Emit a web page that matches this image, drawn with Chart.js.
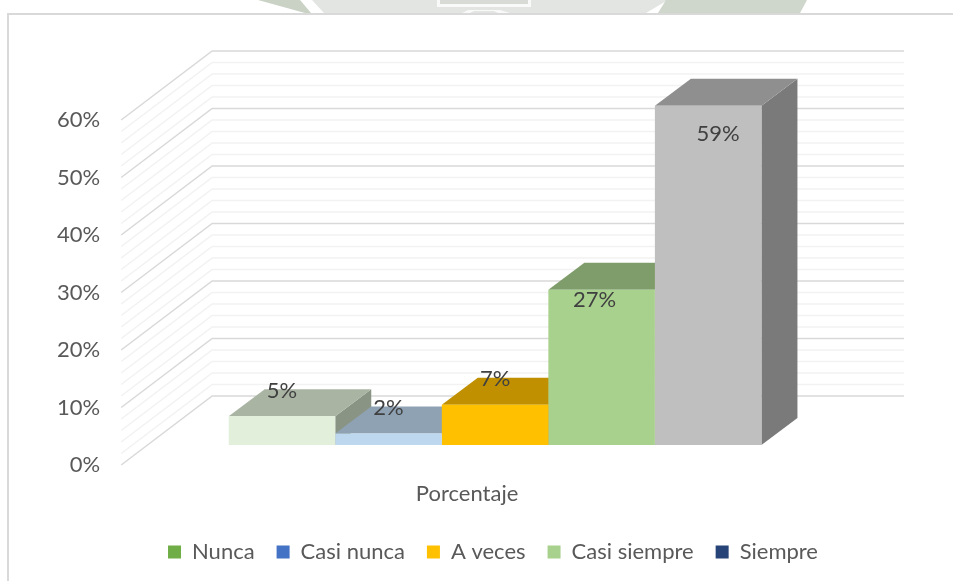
<!DOCTYPE html>
<html><head><meta charset="utf-8">
<style>html,body{margin:0;padding:0;background:#fff}canvas{display:block}</style>
<script src="https://cdn.jsdelivr.net/npm/chart.js@4"></script>
</head><body><div style="width:953px;height:581px"><canvas id="c"></canvas></div>
<script>
const categories = ['Porcentaje'];
const seriesNames = ['Nunca','Casi nunca','A veces','Casi siempre','Siempre'];
const seriesValues = [5,2,7,27,59];
const faceColors = ['#E2EFDA','#BDD7EE','#FFC000','#A9D18E','#BFBFBF'];
const topColors = ['#A9B4A3','#8EA2B4','#C09000','#7F9D6B','#8F8F8F'];
const sideColors = ['#8A9484','#7A8A99','#A37B00','#6C8559','#7A7A7A'];
const legendColors = ['#70AD47','#4472C4','#FFC000','#A9D18E','#264478'];
const labelShift = [[0,-25],[0,-26],[0,-26],[-7,10],[10,28]];
const WALL = {dx:91, dy:-69};
const BAR = {dx:28, dy:-20};
const DEPTH = {dx:36, dy:-27};
const FONT = 'Lato';

function poly(ctx,color,pts){
  ctx.fillStyle=color;ctx.beginPath();
  pts.forEach((p,i)=>i?ctx.lineTo(p[0],p[1]):ctx.moveTo(p[0],p[1]));
  ctx.closePath();ctx.fill();
}
const scene = {
  id:'scene',
  afterLayout(chart){
    const l=chart.legend;
    const dx=493-(l.left+l.right)/2;
    l.left+=dx;l.right+=dx;
    const h=l.bottom-l.top;
    l.top=519;l.bottom=519+h;
  },
  beforeDraw(chart){
    const {ctx,scales:{y},chartArea:a} = chart;
    ctx.save();
    ctx.fillStyle='#fff';ctx.fillRect(0,0,953,581);
    // faint backdrop strip above the frame
    poly(ctx,'#C9D2C5',[[258,0],[300,0],[311,13],[305,13]]);
    poly(ctx,'#E2E5E1',[[312,0],[668,0],[646,13],[324,13]]);
    poly(ctx,'#F8F9F8',[[437,0],[531,0],[531,7],[437,7]]);
    poly(ctx,'#D7DAD5',[[440,0],[528,0],[528,4],[440,4]]);
    poly(ctx,'#F8F9F8',[[462,13],[468,10],[500,10],[510,13]]);
    poly(ctx,'#E2E5E1',[[470,13],[474,11],[494,11],[498,13]]);
    poly(ctx,'#CFD6CB',[[666,0],[807,0],[800,13],[658,13]]);
    ctx.fillStyle='#D9D9D9';
    ctx.fillRect(7,13,946,2);
    ctx.fillRect(7,13,2,568);
    y.ticks.forEach(t=>{
      const py=y.getPixelForValue(t.value);
      const major=t.value%10===0;
      ctx.strokeStyle=major?'#D9D9D9':'#F2F2F2';ctx.lineWidth=1.5;
      ctx.beginPath();ctx.moveTo(a.left,py);
      ctx.lineTo(a.left+WALL.dx,py+WALL.dy);
      ctx.lineTo(a.right+WALL.dx,py+WALL.dy);ctx.stroke();
    });
    ctx.restore();
  },
  beforeDatasetsDraw(chart){
    const {ctx}=chart;
    ctx.save();
    chart.data.datasets.forEach((d,i)=>{
      const b=chart.getDatasetMeta(i).data[0];
      const L=b.x-b.width/2+BAR.dx,R=b.x+b.width/2+BAR.dx,T=b.y+BAR.dy,B=b.base+BAR.dy;
      poly(ctx,sideColors[i],[[R,T],[R+DEPTH.dx,T+DEPTH.dy],[R+DEPTH.dx,B+DEPTH.dy],[R,B]]);
      poly(ctx,topColors[i],[[L,T],[L+DEPTH.dx,T+DEPTH.dy],[R+DEPTH.dx,T+DEPTH.dy],[R,T]]);
    });
    ctx.translate(BAR.dx,BAR.dy);
  },
  afterDatasetsDraw(chart){
    const {ctx}=chart;
    ctx.restore();
    ctx.save();
    ctx.font='22px '+FONT;ctx.fillStyle='#404040';ctx.textAlign='center';ctx.textBaseline='middle';
    chart.data.datasets.forEach((d,i)=>{
      const b=chart.getDatasetMeta(i).data[0];
      ctx.fillText(d.data[0]+'%',b.x+BAR.dx+labelShift[i][0],b.y+BAR.dy+labelShift[i][1]);
    });
    ctx.restore();
  }
};

new Chart(document.getElementById('c'),{
  type:'bar',
  data:{labels:categories,datasets:seriesNames.map((n,i)=>({
    label:n,data:[seriesValues[i]],backgroundColor:faceColors[i],clip:false,
    categoryPercentage:0.77,barPercentage:1
  }))},
  options:{
    responsive:true,maintainAspectRatio:false,animation:false,
    layout:{padding:{left:36,right:140,top:120,bottom:10}},
    plugins:{
      tooltip:{enabled:false},
      legend:{position:'bottom',onClick:null,
        labels:{color:'#595959',font:{family:FONT,size:22},boxWidth:13,boxHeight:13,padding:22,
          generateLabels:()=>seriesNames.map((n,i)=>({text:n,fillStyle:legendColors[i],strokeStyle:legendColors[i],lineWidth:0,datasetIndex:i,fontColor:'#595959'}))}}
    },
    scales:{
      x:{grid:{display:false,drawTicks:false},border:{display:false},
        ticks:{color:'#595959',font:{family:FONT,size:22},padding:16},
        afterFit:s=>{s.height=52;}},
      y:{min:0,max:60,grid:{display:false,drawTicks:false},border:{display:false},
        ticks:{stepSize:2,autoSkip:false,color:'#595959',font:{family:FONT,size:22},padding:21,
          callback:v=>v%10===0?v+'%':''}}
    }
  },
  plugins:[scene]
});
</script></body></html>
